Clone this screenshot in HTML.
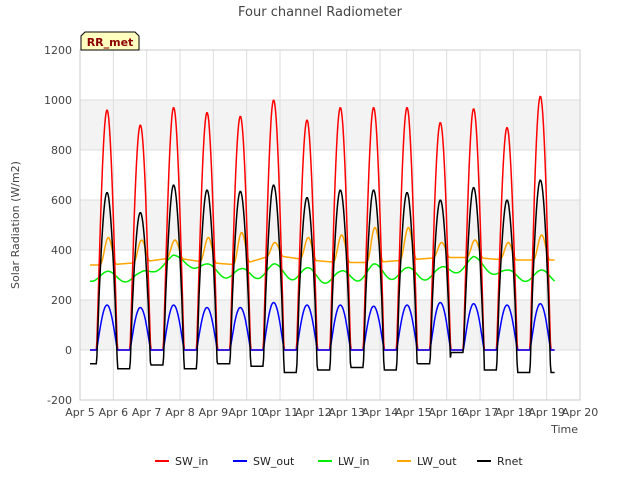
<!DOCTYPE html>
<html><head><meta charset="utf-8"><style>
body{margin:0;background:#fff;font-family:"DejaVu Sans","Liberation Sans",sans-serif}
</style></head><body>
<svg id="c" width="640" height="480" xmlns="http://www.w3.org/2000/svg" font-family="DejaVu Sans, Liberation Sans, sans-serif"></svg>
<script>
const dayLabels=["Apr 5","Apr 6","Apr 7","Apr 8","Apr 9","Apr 10","Apr 11","Apr 12","Apr 13","Apr 14","Apr 15","Apr 16","Apr 17","Apr 18","Apr 19","Apr 20"];
const yTicks=[-200,0,200,400,600,800,1000,1200];
const swInPeak=[960,900,970,950,935,1000,920,970,970,970,910,965,890,1015];
const swOutPeak=[180,170,180,170,170,190,180,180,175,180,190,185,180,185];
const rnetPeak=[630,550,660,640,635,660,610,640,640,630,600,650,600,680];
const rnetNight=[-55,-75,-60,-75,-55,-65,-90,-80,-70,-80,-55,-10,-80,-90,-90];
const lwInMean=[295,290,370,325,300,320,300,290,315,305,305,355,300,295];
const lwInAmp=[20,20,10,20,25,25,30,25,30,25,25,20,20,25];
const lwOutNight=[340,350,370,350,340,380,360,350,350,360,370,370,360,360];
const lwOutPeak=[450,440,440,450,470,430,450,460,490,490,430,440,430,460];
const series=[["SW_in","#ff0000"],["SW_out","#0000ff"],["LW_in","#00ee00"],["LW_out","#ffa500"],["Rnet","#000000"]];
const NS="http://www.w3.org/2000/svg",svg=document.getElementById('c');
const X0=80,X1=580,Y0=400,Y1=50;
const x=d=>X0+(X1-X0)*d/15, y=v=>Y0-(Y0-Y1)*(v+200)/1400;
function el(t,a,p){const e=document.createElementNS(NS,t);for(const k in a)e.setAttribute(k,a[k]);(p||svg).appendChild(e);return e;}
[[0,200],[400,600],[800,1000]].forEach(b=>{const r=el('rect',{x:X0,y:y(b[1]),width:X1-X0,height:y(b[0])-y(b[1]),fill:'#f3f3f3'});
});
yTicks.forEach(v=>{el('line',{x1:X0,x2:X1,y1:y(v),y2:y(v),stroke:'#dddddd'});
const t=el('text',{x:X0-8,y:y(v)+4,'text-anchor':'end','font-size':11,fill:'#444'});t.textContent=v;
});
dayLabels.forEach((l,i)=>{el('line',{x1:x(i),x2:x(i),y1:Y1,y2:Y0,stroke:'#dddddd'});
const t=el('text',{x:x(i),y:Y0+16,'text-anchor':'middle','font-size':11,fill:'#444'});t.textContent=l;
});
el('rect',{x:X0,y:Y1,width:X1-X0,height:Y0-Y1,fill:'none',stroke:'#cccccc'});
function shape(t){const d=Math.floor(t-0.5),f=t-0.5-d;return {d,s:(f<0.62)?Math.pow(Math.sin(f/0.62*Math.PI),1.05):0,f};}
const pts={SW_in:[],SW_out:[],LW_in:[],LW_out:[],Rnet:[]};
for(let t=0.3;t<=14.25;t+=1/48){
 const {d,s,f}=shape(t);const di=Math.max(0,Math.min(13,d));const dn=d+1;
 pts.SW_in.push([t,d<0?0:swInPeak[di]*s]);
 pts.SW_out.push([t,d<0?0:swOutPeak[di]*s]);
 const night=rnetNight[Math.max(0,Math.min(14,f<0.62?d:dn))];
 pts.Rnet.push([t,d<0?rnetNight[0]:(s>0?night*(1-Math.min(1,s*3))+rnetPeak[di]*s:night)]);
 const u=t-0.8,d0=Math.max(0,Math.min(13,Math.floor(u))),d1=Math.max(0,Math.min(13,Math.floor(u)+1)),w=u-Math.floor(u);
 const lerp=(a)=>a[d0]*(1-w)+a[d1]*w;
 const c=Math.cos((t-0.85)*2*Math.PI);
 pts.LW_in.push([t,lerp(lwInMean)+lerp(lwInAmp)*c]);
 const dd=Math.max(0,Math.min(13,Math.round(t-0.8)));
 const s2=Math.max(0,c);pts.LW_out.push([t,lerp(lwOutNight)+(lwOutPeak[dd]-lerp(lwOutNight))*Math.pow(s2,2)]);
}
["LW_in","LW_out","SW_in","SW_out","Rnet"].forEach(k=>{const col=series.find(s=>s[0]==k)[1];
const p=el('path',{d:'M'+pts[k].map(q=>x(q[0]).toFixed(1)+','+y(q[1]).toFixed(1)).join('L'),fill:'none',stroke:col,'stroke-width':1.5});
});
let t=el('text',{x:320,y:16,'text-anchor':'middle','font-size':13,fill:'#444'});t.textContent='Four channel Radiometer';

t=el('text',{x:19,y:225,'text-anchor':'middle','font-size':11,fill:'#444',transform:'rotate(-90 19 225)'});t.textContent='Solar Radiation (W/m2)';

t=el('text',{x:578,y:433,'text-anchor':'end','font-size':11,fill:'#444'});t.textContent='Time';

const g=el('g',{});
el('path',{d:'M81,50 L81,36 L85,32 L135,32 L139,36 L139,50 Z',fill:'#ffffc0',stroke:'#000'},g);
const tt=el('text',{x:110,y:46,'text-anchor':'middle','font-size':11,'font-weight':'bold',fill:'#8b0000'},g);tt.textContent='RR_met';
const lx=[155,233,318,397,477];
series.forEach((s,i)=>{const lg=el('g',{});
el('line',{x1:lx[i],x2:lx[i]+14,y1:461,y2:461,stroke:s[1],'stroke-width':2},lg);
const l=el('text',{x:lx[i]+20,y:465,'font-size':11,fill:'#222'},lg);l.textContent=s[0];});
</script>
</body></html>
